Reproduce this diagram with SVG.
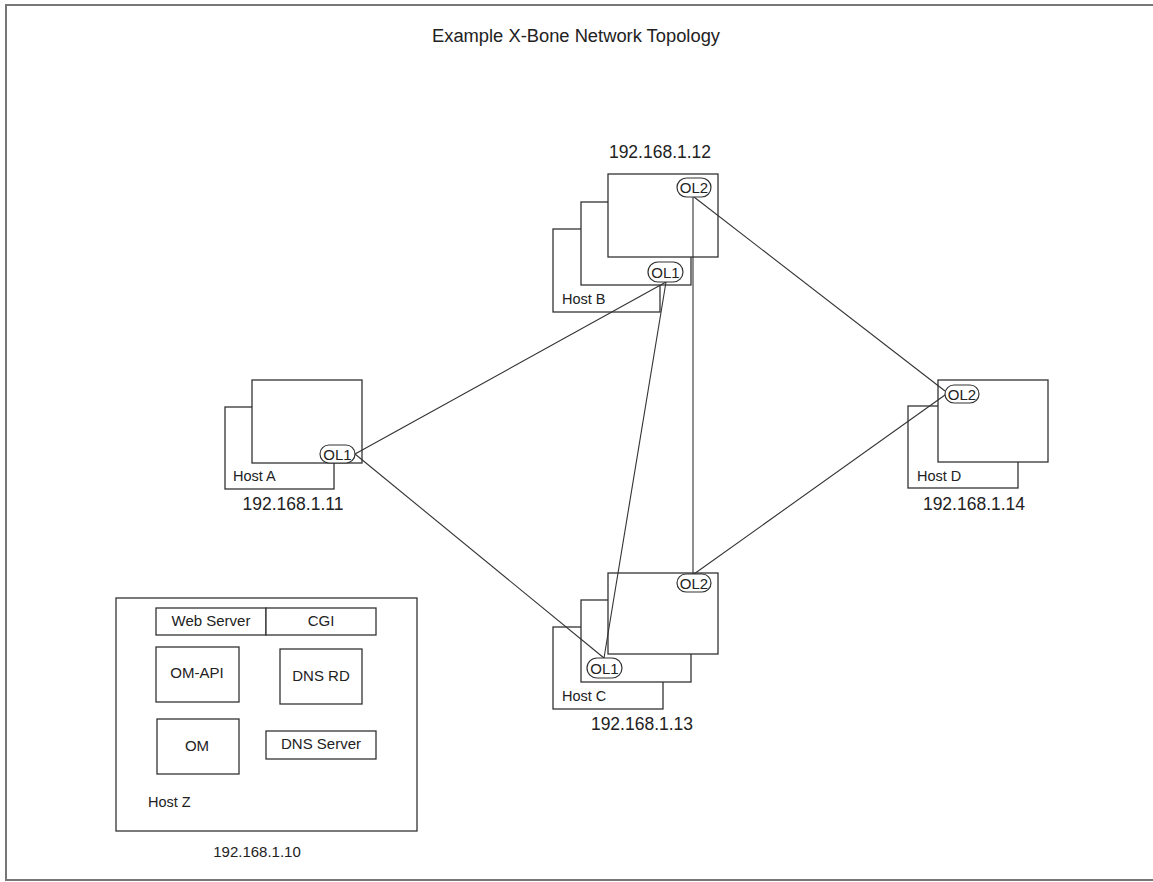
<svg xmlns="http://www.w3.org/2000/svg" width="1153" height="882" viewBox="0 0 1153 882">
<style>
.box{fill:#fff;stroke:#333;stroke-width:1.3}
.pill{fill:#fff;stroke:#333;stroke-width:1.2}
.ln{stroke:#333;stroke-width:1.1;fill:none}
text{font-family:"Liberation Sans",Arial,sans-serif;fill:#222}
.ip{font-size:17.5px;text-anchor:middle}
.host{font-size:14.5px}
.ol{font-size:15px;text-anchor:middle}
.z{font-size:15px;text-anchor:middle}
</style>
<rect x="0" y="0" width="1153" height="882" fill="#fff"/>
<rect x="6" y="5" width="1160" height="875" fill="none" stroke="#777" stroke-width="2"/>
<text x="576" y="42" font-size="18" text-anchor="middle" textLength="288" lengthAdjust="spacingAndGlyphs">Example X-Bone Network Topology</text>

<g id="hostA">
<rect class="box" x="225" y="407" width="109" height="82"/>
<rect class="box" x="252" y="380" width="110" height="83"/>
<text class="host" x="233" y="481">Host A</text>
<text class="ip" x="293" y="510">192.168.1.11</text>
</g>

<g id="hostB">
<rect class="box" x="553" y="229" width="107" height="83"/>
<rect class="box" x="581" y="202" width="110" height="83"/>
<rect class="box" x="608" y="174" width="110" height="83"/>
<text class="host" x="562" y="304">Host B</text>
<text class="ip" x="660" y="158">192.168.1.12</text>
</g>

<g id="hostC">
<rect class="box" x="553" y="627" width="110" height="82"/>
<rect class="box" x="581" y="600" width="110" height="82"/>
<rect class="box" x="608" y="573" width="110" height="81"/>
<text class="host" x="562" y="701">Host C</text>
<text class="ip" x="642" y="730">192.168.1.13</text>
</g>

<g id="hostD">
<rect class="box" x="908" y="406" width="110" height="82"/>
<rect class="box" x="938" y="380" width="110" height="82"/>
<text class="host" x="917" y="481">Host D</text>
<text class="ip" x="974" y="510">192.168.1.14</text>
</g>

<g id="hostZ">
<rect class="box" x="116" y="598" width="301" height="233"/>
<rect class="box" x="156" y="608" width="110" height="27"/>
<text class="z" x="211" y="626">Web Server</text>
<rect class="box" x="266" y="608" width="110" height="27"/>
<text class="z" x="321" y="626">CGI</text>
<rect class="box" x="156" y="647" width="83" height="55"/>
<text class="z" x="197" y="678">OM-API</text>
<rect class="box" x="280" y="649" width="82" height="55"/>
<text class="z" x="321" y="681">DNS RD</text>
<rect class="box" x="157" y="719" width="82" height="55"/>
<text class="z" x="197" y="751">OM</text>
<rect class="box" x="266" y="731" width="110" height="28"/>
<text class="z" x="321" y="749">DNS Server</text>
<text class="host" x="148" y="807">Host Z</text>
<text class="z" x="257" y="857">192.168.1.10</text>
</g>

<g id="connectors">
<line class="ln" x1="355" y1="454" x2="666" y2="282"/>
<line class="ln" x1="355" y1="454" x2="604" y2="658"/>
<line class="ln" x1="666" y1="282" x2="604" y2="658"/>
<line class="ln" x1="693" y1="197" x2="693" y2="574"/>
<line class="ln" x1="694" y1="197" x2="945" y2="391"/>
<line class="ln" x1="694" y1="574" x2="945" y2="395"/>
</g>

<g id="ports">
<rect class="pill" x="320" y="445" width="35" height="18" rx="9"/>
<text class="ol" x="337.5" y="459.5">OL1</text>
<rect class="pill" x="677" y="178" width="34" height="19" rx="9.5"/>
<text class="ol" x="694" y="193">OL2</text>
<rect class="pill" x="648" y="262" width="35" height="20" rx="10"/>
<text class="ol" x="665.5" y="277.5">OL1</text>
<rect class="pill" x="677" y="574" width="34" height="18" rx="9"/>
<text class="ol" x="694" y="588.5">OL2</text>
<rect class="pill" x="587" y="658" width="35" height="20" rx="10"/>
<text class="ol" x="604.5" y="673.5">OL1</text>
<rect class="pill" x="945" y="385" width="34" height="18" rx="9"/>
<text class="ol" x="962" y="399.5">OL2</text>
</g>
</svg>
